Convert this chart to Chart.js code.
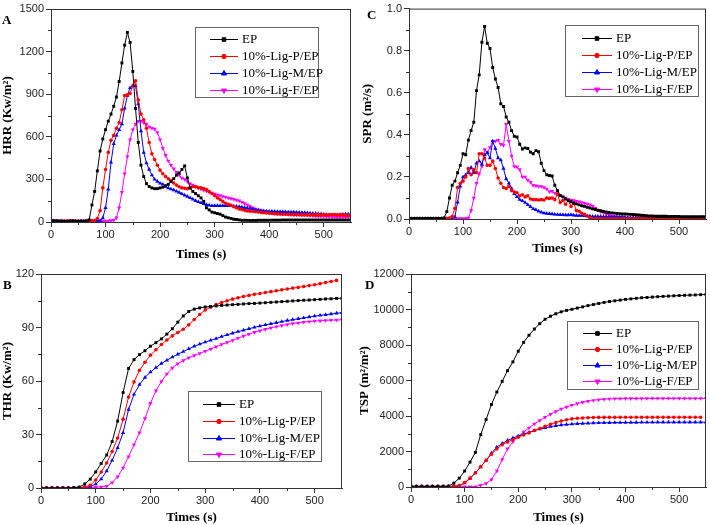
<!DOCTYPE html>
<html>
<head>
<meta charset="utf-8">
<script src="https://cdn.jsdelivr.net/npm/chart.js@4.4.1/dist/chart.umd.min.js"></script>
<style>
  body { margin: 0; background: #fff; width: 710px; height: 525px; position: relative; overflow: hidden; }
  canvas { position: absolute; }
</style>
</head>
<body>
<canvas id="pA" width="355" height="262" style="left:0;top:0"></canvas>
<canvas id="pC" width="355" height="262" style="left:355px;top:0"></canvas>
<canvas id="pB" width="355" height="263" style="left:0;top:262px"></canvas>
<canvas id="pD" width="355" height="263" style="left:355px;top:262px"></canvas>
<script>
// sampling grids (s)
const times5 = Array.from({ length: 111 }, (_, i) => i * 5);
const times10 = Array.from({ length: 56 }, (_, i) => i * 10);

const seriesNames = ['EP', '10%-Lig-P/EP', '10%-Lig-M/EP', '10%-Lig-F/EP'];

// A: heat release rate, every 5 s
const hrrEP = [
  10, 8, 8, 6, 6, 5, 5, 6, 8, 6,
  5, 6, 5, 8, 15, 120, 215, 360, 500, 585,
  650, 710, 760, 815, 880, 990, 1120, 1245, 1335, 1265,
  1060, 800, 560, 400, 320, 270, 250, 240, 235, 235,
  240, 245, 255, 265, 285, 305, 330, 345, 370, 395,
  310, 240, 215, 200, 185, 170, 145, 100, 85, 70,
  65, 60, 55, 45, 35, 30, 25, 20, 18, 15,
  12, 12, 12, 11, 11, 11, 12, 12, 12, 12,
  12, 13, 13, 13, 13, 14, 14, 14, 14, 14,
  14, 14, 14, 14, 14, 14, 14, 14, 14, 14,
  14, 14, 14, 14, 14, 14, 14, 14, 14, 14,
  14
];
const hrrP = [
  8, 8, 6, 6, 5, 5, 6, 8, 6, 5,
  5, 6, 5, 6, 6, 8, 8, 25, 80, 240,
  370, 490, 575, 610, 660, 700, 790, 890, 895, 905,
  960, 995, 860, 760, 720, 660, 560, 480, 440, 400,
  365, 340, 320, 305, 290, 275, 260, 248, 240, 238,
  235, 240, 250, 248, 242, 240, 235, 228, 215, 200,
  185, 170, 158, 145, 132, 125, 118, 108, 100, 92,
  88, 82, 78, 76, 75, 72, 70, 67, 65, 64,
  62, 60, 58, 57, 56, 55, 55, 54, 53, 52,
  52, 51, 50, 50, 50, 50, 50, 50, 50, 50,
  50, 50, 50, 52, 52, 50, 50, 50, 48, 48,
  48
];
const hrrM = [
  8, 8, 6, 6, 5, 5, 6, 8, 6, 5,
  5, 6, 5, 6, 6, 8, 8, 8, 10, 28,
  100, 230, 420, 550, 610, 650, 690, 800, 890, 945,
  960, 960, 830, 640, 490, 415, 370, 330, 300, 285,
  272, 265, 250, 240, 232, 225, 216, 208, 198, 188,
  180, 170, 160, 150, 142, 135, 128, 122, 118, 115,
  115, 115, 115, 115, 115, 115, 115, 112, 110, 108,
  105, 100, 98, 95, 90, 86, 83, 80, 78, 76,
  75, 75, 74, 73, 72, 72, 71, 70, 70, 70,
  68, 68, 66, 65, 64, 62, 60, 60, 58, 56,
  54, 52, 50, 50, 50, 50, 52, 54, 55, 55,
  55
];
const hrrF = [
  8, 8, 6, 6, 8, 6, 5, 6, 8, 6,
  6, 5, 6, 8, 6, 8, 6, 8, 8, 6,
  8, 8, 10, 12, 30, 100, 210, 340, 460, 580,
  650, 690, 710, 710, 700, 690, 670, 660, 655, 630,
  580, 520, 470, 430, 400, 375, 350, 330, 310, 300,
  285, 270, 260, 250, 240, 232, 225, 218, 210, 205,
  198, 192, 186, 180, 175, 170, 165, 160, 155, 150,
  140, 130, 120, 110, 100, 92, 85, 80, 75, 72,
  68, 65, 62, 60, 58, 56, 55, 54, 52, 50,
  50, 50, 50, 50, 48, 46, 44, 42, 40, 40,
  40, 38, 38, 36, 36, 35, 35, 35, 35, 35,
  35
];

// C: smoke production rate, every 5 s
const sprEP = [
  0.003, 0.003, 0.003, 0.003, 0.003, 0.003, 0.003, 0.003, 0.003, 0.003,
  0.003, 0.003, 0.003, 0.005, 0.035, 0.1, 0.16, 0.18, 0.22, 0.255,
  0.31, 0.305, 0.375, 0.42, 0.46, 0.61, 0.685, 0.84, 0.915, 0.835,
  0.81, 0.72, 0.665, 0.625, 0.548, 0.535, 0.485, 0.46, 0.42, 0.393,
  0.39, 0.355, 0.333, 0.338, 0.335, 0.318, 0.31, 0.325, 0.32, 0.265,
  0.23, 0.21, 0.207, 0.204, 0.16, 0.135, 0.112, 0.105, 0.095, 0.088,
  0.082, 0.076, 0.072, 0.067, 0.063, 0.06, 0.056, 0.052, 0.048, 0.045,
  0.042, 0.039, 0.036, 0.033, 0.031, 0.029, 0.028, 0.026, 0.025, 0.024,
  0.024, 0.023, 0.022, 0.021, 0.02, 0.019, 0.018, 0.017, 0.016, 0.015,
  0.014, 0.013, 0.013, 0.013, 0.013, 0.013, 0.012, 0.012, 0.012, 0.012,
  0.012, 0.011, 0.011, 0.011, 0.011, 0.011, 0.011, 0.011, 0.011, 0.011,
  0.011
];
const sprP = [
  0.002, 0.002, 0.002, 0.002, 0.002, 0.002, 0.002, 0.002, 0.002, 0.002,
  0.002, 0.002, 0.002, 0.002, 0.002, 0.005, 0.012, 0.05, 0.15, 0.17,
  0.18, 0.2, 0.24, 0.21, 0.235, 0.22, 0.31, 0.31, 0.29, 0.255,
  0.255, 0.275, 0.24, 0.195, 0.17, 0.15, 0.145, 0.155, 0.135, 0.128,
  0.125, 0.11, 0.115, 0.105, 0.11, 0.095, 0.092, 0.092, 0.09, 0.092,
  0.09, 0.1, 0.098, 0.1, 0.092, 0.118, 0.078, 0.088, 0.07, 0.088,
  0.06, 0.075, 0.04, 0.037, 0.027, 0.022, 0.014, 0.006, 0.002, 0.001,
  0.001, 0.001, 0.001, 0.001, 0.001, 0.001, 0.001, 0.001, 0.001, 0.001,
  0.001, 0.001, 0.001, 0.001, 0.001, 0.001, 0.001, 0.001, 0.001, 0.001,
  0.001, 0.001, 0.001, 0.001, 0.001, 0.001, 0.001, 0.001, 0.001, 0.001,
  0.001, 0.001, 0.001, 0.001, 0.001, 0.001, 0.001, 0.001, 0.001, 0.001,
  0.001
];
const sprM = [
  0.002, 0.002, 0.002, 0.002, 0.002, 0.002, 0.002, 0.002, 0.002, 0.002,
  0.002, 0.002, 0.002, 0.002, 0.002, 0.002, 0.003, 0.01, 0.08, 0.155,
  0.2, 0.21, 0.22, 0.245, 0.22, 0.265, 0.275, 0.26, 0.305, 0.315,
  0.29, 0.37, 0.335, 0.29, 0.28, 0.24, 0.19, 0.17, 0.145, 0.12,
  0.105, 0.092, 0.086, 0.078, 0.068, 0.058, 0.048, 0.044, 0.037, 0.032,
  0.028, 0.026, 0.025, 0.024, 0.022, 0.021, 0.02, 0.02, 0.019, 0.019,
  0.02, 0.018, 0.017, 0.016, 0.016, 0.015, 0.014, 0.013, 0.012, 0.012,
  0.012, 0.012, 0.011, 0.011, 0.01, 0.01, 0.01, 0.01, 0.009, 0.009,
  0.008, 0.008, 0.007, 0.007, 0.007, 0.006, 0.006, 0.006, 0.006, 0.006,
  0.005, 0.005, 0.005, 0.005, 0.005, 0.005, 0.005, 0.005, 0.005, 0.005,
  0.005, 0.005, 0.005, 0.005, 0.005, 0.005, 0.005, 0.005, 0.005, 0.005,
  0.005
];
const sprF = [
  0.002, 0.002, 0.002, 0.002, 0.002, 0.002, 0.002, 0.002, 0.002, 0.002,
  0.002, 0.002, 0.002, 0.002, 0.002, 0.002, 0.002, 0.002, 0.002, 0.002,
  0.002, 0.003, 0.005, 0.04, 0.1, 0.17, 0.215, 0.25, 0.33, 0.315,
  0.34, 0.37, 0.37, 0.375, 0.355, 0.35, 0.45, 0.37, 0.3, 0.25,
  0.247, 0.235, 0.2, 0.2, 0.185, 0.175, 0.16, 0.158, 0.155, 0.155,
  0.15, 0.143, 0.13, 0.132, 0.123, 0.12, 0.112, 0.105, 0.1, 0.094,
  0.09, 0.088, 0.085, 0.082, 0.079, 0.075, 0.072, 0.068, 0.062, 0.052,
  0.042, 0.035, 0.03, 0.025, 0.02, 0.016, 0.012, 0.01, 0.008, 0.007,
  0.004, 0.004, 0.004, 0.004, 0.004, 0.004, 0.004, 0.004, 0.004, 0.004,
  0.004, 0.004, 0.004, 0.004, 0.004, 0.004, 0.004, 0.004, 0.004, 0.004,
  0.004, 0.004, 0.004, 0.004, 0.004, 0.004, 0.004, 0.004, 0.004, 0.004,
  0.004
];

// B: total heat release, every 10 s
const thrEP = [
  0, 0, 0, 0, 0, 0, 0.2, 0.5, 2.3, 5,
  9, 13.8, 18.5, 26, 37.5, 53.5, 67, 72, 74.8, 77,
  79.5, 81.5, 83.6, 86.3, 89.3, 93, 96.5, 99, 100.3, 101,
  101.5, 101.8, 102.1, 102.4, 102.6, 102.8, 103, 103.2, 103.4, 103.5,
  103.7, 103.9, 104.1, 104.3, 104.5, 104.7, 104.9, 105.1, 105.3, 105.4,
  105.6, 105.8, 106, 106.1, 106.3, 106.4
];
const thrP = [
  0, 0, 0, 0, 0, 0, 0.1, 0.2, 0.6, 1.5,
  4.5, 9, 14, 20.5, 28, 38.5, 51, 59.5, 66, 70.5,
  74.5, 77.5, 80.5, 83, 85.3, 87.2, 89, 91.5, 94.5, 97.3,
  99.8, 101.4, 102.8, 104, 105, 105.9, 106.7, 107.4, 108, 108.6,
  109.1, 109.6, 110.1, 110.6, 111.1, 111.6, 112.1, 112.5, 113, 113.5,
  114, 114.6, 115.2, 115.8, 116.4
];
const thrM = [
  0, 0, 0, 0, 0, 0, 0.1, 0.2, 0.4, 0.8,
  2.2, 5, 9.5, 15.5, 22.5, 31, 44, 52.5, 58, 62,
  65, 67.5, 69.8, 71.6, 73.4, 75, 76.5, 78, 79.5, 80.7,
  81.8, 82.8, 83.8, 84.9, 85.9, 86.8, 87.7, 88.5, 89.3, 90.1,
  90.8, 91.5, 92.1, 92.7, 93.3, 93.9, 94.4, 94.9, 95.4, 95.9,
  96.4, 96.8, 97.2, 97.6, 98, 98.3
];
const thrF = [
  0, 0, 0, 0, 0, 0, 0, 0.1, 0.2, 0.3,
  0.4, 0.6, 1, 3, 6.3, 11.3, 17.6, 24.3, 31, 39,
  47.5, 54.5, 59.7, 64, 67.3, 69.7, 71.5, 73, 74.3, 75.5,
  76.7, 77.9, 79.2, 80.5, 81.6, 82.8, 84, 85.2, 86.3, 87.3,
  88.2, 89, 89.8, 90.5, 91.1, 91.7, 92.2, 92.6, 93, 93.3,
  93.6, 93.8, 94, 94.1, 94.2, 94.3
];

// D: total smoke production, every 10 s
const tspEP = [
  40, 40, 40, 40, 40, 40, 40, 50, 220, 500,
  900, 1400, 1950, 2950, 3800, 4650, 5350, 5950, 6550, 7050,
  7650, 8150, 8550, 8900, 9200, 9450, 9620, 9760, 9870, 9950,
  10010, 10080, 10150, 10220, 10280, 10340, 10400, 10450, 10490, 10530,
  10570, 10600, 10630, 10660, 10680, 10700, 10720, 10740, 10755, 10770,
  10785, 10800, 10810, 10820, 10835, 10850
];
const tspP = [
  30, 30, 30, 30, 30, 30, 30, 30, 40, 80,
  250, 500, 800, 1150, 1500, 1850, 2150, 2380, 2530, 2680,
  2800, 2930, 3050, 3180, 3300, 3420, 3530, 3630, 3720, 3790,
  3840, 3870, 3890, 3905, 3915, 3920, 3922, 3924, 3925, 3926,
  3927, 3928, 3929, 3930, 3930, 3930, 3930, 3930, 3930, 3930,
  3930, 3930, 3930, 3930, 3930
];
const tspM = [
  30, 30, 30, 30, 30, 30, 30, 30, 40, 60,
  220, 480, 780, 1130, 1500, 1900, 2250, 2450, 2620, 2760,
  2870, 2980, 3080, 3180, 3260, 3340, 3400, 3450, 3490, 3520,
  3545, 3565, 3580, 3595, 3605, 3612, 3618, 3622, 3626, 3630,
  3633, 3636, 3638, 3640, 3642, 3644, 3645, 3646, 3647, 3648,
  3649, 3650, 3650, 3650, 3650, 3650
];
const tspF = [
  20, 20, 20, 20, 20, 20, 20, 20, 20, 20,
  20, 20, 20, 100, 200, 420, 900, 1550, 2150, 2550,
  2850, 3100, 3330, 3550, 3750, 3930, 4100, 4250, 4390, 4510,
  4610, 4700, 4770, 4830, 4880, 4920, 4950, 4965, 4975, 4980,
  4982, 4984, 4986, 4988, 4990, 4990, 4990, 4990, 4990, 4990,
  4990, 4990, 4990, 4990, 4990, 4990
];

const styles = [
  { color: '#000000', pointStyle: 'rect', rotation: 0, size: 1.15 },
  { color: '#ff0000', pointStyle: 'circle', rotation: 0, size: 1 },
  { color: '#0000ff', pointStyle: 'triangle', rotation: 0, size: 1.35 },
  { color: '#ff00ff', pointStyle: 'triangle', rotation: 180, size: 1.35 }
];

const frame = {
  id: 'frame',
  afterDraw(chart, args, o) {
    const { ctx, chartArea: a, scales: { x, y } } = chart;
    ctx.save();
    ctx.strokeStyle = '#333';
    ctx.lineWidth = 1;
    ctx.strokeRect(a.left + 0.5, a.top + 0.5, a.right - a.left - 1, a.bottom - a.top);
    // minor ticks
    ctx.beginPath();
    for (let v = 50; v < x.max; v += 100) {
      const px = Math.round(x.getPixelForValue(v)) + 0.5;
      ctx.moveTo(px, a.bottom);
      ctx.lineTo(px, a.bottom + 3);
    }
    for (let v = o.minorY; v < y.max; v += o.minorY * 2) {
      const py = Math.round(y.getPixelForValue(v)) + 0.5;
      ctx.moveTo(a.left, py);
      ctx.lineTo(a.left - 3, py);
    }
    ctx.stroke();
    ctx.fillStyle = '#000';
    ctx.font = 'bold 13px "Liberation Serif"';
    ctx.textBaseline = 'alphabetic';
    ctx.fillText(o.letter, o.lx, o.ly);
    // legend box
    const L = o.legend;
    ctx.fillStyle = '#fff';
    ctx.fillRect(L.x, L.y, L.w, L.h);
    ctx.strokeStyle = '#666';
    ctx.strokeRect(L.x + 0.5, L.y + 0.5, L.w, L.h);
    chart.data.datasets.forEach((ds, i) => {
      const yy = L.rows[i];
      ctx.strokeStyle = ds.borderColor;
      ctx.lineWidth = 1;
      ctx.beginPath();
      ctx.moveTo(L.s1, yy + 0.5);
      ctx.lineTo(L.s2, yy + 0.5);
      ctx.stroke();
      ctx.fillStyle = ds.borderColor;
      Chart.helpers.drawPoint(ctx, { pointStyle: ds.pointStyle, rotation: ds.pointRotation, radius: 2.2 * styles[i].size, borderWidth: 0.5 }, (L.s1 + L.s2) / 2, yy + 0.5);
      ctx.fillStyle = '#000';
      ctx.font = '13px "Liberation Serif"';
      ctx.textBaseline = 'middle';
      ctx.fillText(ds.label, L.tx, yy + 1);
    });
    ctx.restore();
  }
};

function makeChart(id, p) {
  const datasets = p.series.map((vals, k) => ({
    label: seriesNames[k],
    data: vals.map((v, i) => ({ x: p.times[i], y: v })),
    borderColor: styles[k].color,
    backgroundColor: styles[k].color,
    pointBackgroundColor: styles[k].color,
    pointBorderColor: styles[k].color,
    pointStyle: styles[k].pointStyle,
    pointRotation: styles[k].rotation,
    pointRadius: p.radius * styles[k].size,
    pointBorderWidth: 0,
    borderWidth: 1,
    tension: 0
  }));
  new Chart(document.getElementById(id), {
    type: 'line',
    data: { datasets },
    plugins: [frame],
    options: {
      responsive: false,
      animation: false,
      layout: { padding: { top: p.padTop, right: p.padRight, left: 0, bottom: 0 } },
      plugins: {
        legend: { display: false },
        tooltip: { enabled: false },
        frame: { minorY: p.yStep / 2, letter: p.letter, lx: p.lx, ly: p.ly, legend: p.legend }
      },
      scales: {
        x: {
          type: 'linear', min: 0, max: 550,
          afterFit: s => { s.height = p.axisH; },
          ticks: {
            stepSize: 100, includeBounds: false, maxRotation: 0, padding: 1, color: '#222',
            font: { family: '"Liberation Sans", Arial', size: 11 }
          },
          grid: { drawOnChartArea: false, tickLength: 5, color: '#333' },
          border: { color: '#333' },
          title: {
            display: true, text: 'Times (s)', color: '#000',
            font: { family: '"Liberation Serif"', weight: 'bold', size: 13 },
            padding: { top: 0, bottom: p.xTitlePad }
          }
        },
        y: {
          min: 0, max: p.yMax,
          afterFit: s => { s.width = p.axisW; },
          ticks: {
            stepSize: p.yStep, padding: 2, color: '#222',
            font: { family: '"Liberation Sans", Arial', size: 11 },
            callback: p.fmt
          },
          grid: { drawOnChartArea: false, tickLength: 5, color: '#333' },
          border: { color: '#333' },
          title: {
            display: true, text: p.yTitle, color: '#000',
            font: { family: '"Liberation Serif"', weight: 'bold', size: 13 },
            padding: { top: p.yTitlePad, bottom: 0 }
          }
        }
      }
    }
  });
}

makeChart('pA', {
  times: times5, series: [hrrEP, hrrP, hrrM, hrrF], radius: 1.8,
  yMax: 1500, yStep: 300, yTitle: 'HRR (Kw/m²)', fmt: v => v,
  axisW: 51, axisH: 40, padTop: 9, padRight: 4, yTitlePad: 0, xTitlePad: 0,
  letter: 'A', lx: 2, ly: 24,
  legend: { x: 195, y: 27, w: 123, h: 70, rows: [39, 56, 73, 90], s1: 210, s2: 238, tx: 242 }
});
makeChart('pC', {
  times: times5, series: [sprEP, sprP, sprM, sprF], radius: 1.8,
  yMax: 1, yStep: 0.2, yTitle: 'SPR (m²/s)', fmt: v => v.toFixed(1),
  axisW: 54, axisH: 43, padTop: 5, padRight: 1, yTitlePad: 5, xTitlePad: 6,
  letter: 'C', lx: 12, ly: 19,
  legend: { x: 210, y: 25, w: 133, h: 71, rows: [38, 55, 72, 89], s1: 227, s2: 257, tx: 261 }
});
makeChart('pB', {
  times: times10, series: [thrEP, thrP, thrM, thrF], radius: 1.8,
  yMax: 120, yStep: 30, yTitle: 'THR (Kw/m²)', fmt: v => v,
  axisW: 41, axisH: 37, padTop: 12, padRight: 13, yTitlePad: 0, xTitlePad: 0,
  letter: 'B', lx: 3, ly: 27,
  legend: { x: 188, y: 129, w: 133, h: 70, rows: [142, 159, 176, 192], s1: 203, s2: 235, tx: 239 }
});
makeChart('pD', {
  times: times10, series: [tspEP, tspP, tspM, tspF], radius: 1.8,
  yMax: 12000, yStep: 2000, yTitle: 'TSP (m²/m²)', fmt: v => v,
  axisW: 56, axisH: 38, padTop: 12, padRight: 1, yTitlePad: 2, xTitlePad: 0,
  letter: 'D', lx: 10, ly: 27,
  legend: { x: 212, y: 59, w: 131, h: 68, rows: [71, 87, 103, 119], s1: 228, s2: 257, tx: 261 }
});
</script>
</body>
</html>
